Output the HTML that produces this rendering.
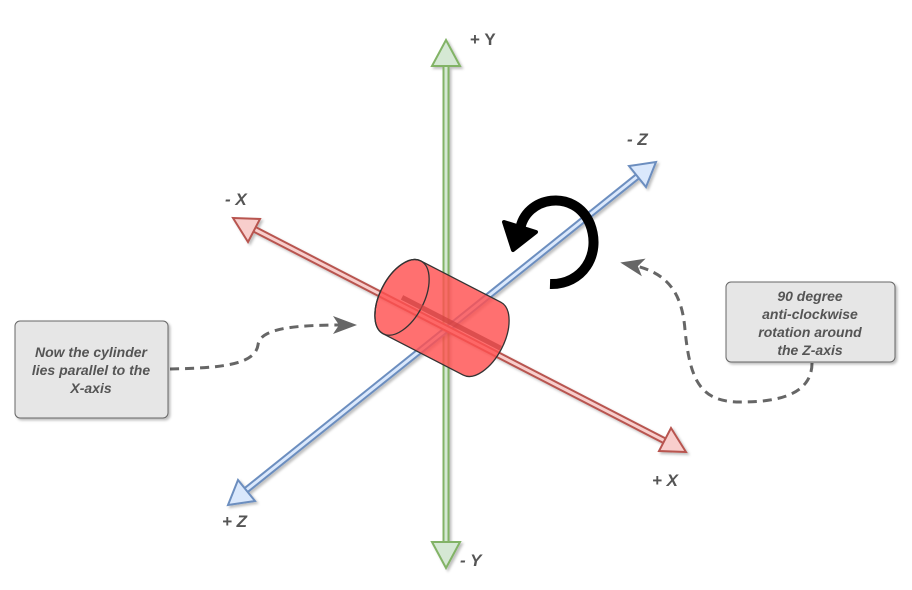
<!DOCTYPE html>
<html><head><meta charset="utf-8"><style>
html,body{margin:0;padding:0;background:#fff;}
svg{display:block;}
text{font-family:"Liberation Sans",Arial,sans-serif;}
.lbl{font-weight:bold;font-style:italic;font-size:17px;fill:#555;}
.box{font-weight:bold;font-style:italic;font-size:14px;fill:#555;}
</style></head><body>
<svg width="912" height="590" viewBox="0 0 912 590">
<defs>
<filter id="sh" x="-20%" y="-20%" width="140%" height="140%"><feDropShadow dx="2" dy="2" stdDeviation="1.2" flood-color="#000" flood-opacity="0.25"/></filter>
<marker id="dash-head" markerWidth="24" markerHeight="24" refX="12" refY="12" orient="auto" markerUnits="userSpaceOnUse" viewBox="0 0 24 24"><path d="M0,3 L24,12 L0,21 L6,12 Z" fill="#666"/></marker>
</defs>

<g filter="url(#sh)">
<line x1="446" y1="64" x2="446" y2="546" stroke="#82b366" stroke-width="7"/>
<line x1="446" y1="64" x2="446" y2="546" stroke="#d5e8d4" stroke-width="3"/>
<path d="M446,40 L460,66 L432,66 Z" fill="#d5e8d4" stroke="#82b366" stroke-width="2"/>
<path d="M446,568 L460,542 L432,542 Z" fill="#d5e8d4" stroke="#82b366" stroke-width="2"/>
</g>
<g filter="url(#sh)">
<line x1="638" y1="176" x2="245" y2="491" stroke="#6c8ebf" stroke-width="7"/>
<line x1="638" y1="176" x2="245" y2="491" stroke="#dae8fc" stroke-width="3"/>
<path d="M656,162 L646,187 L629,166 Z" fill="#dae8fc" stroke="#6c8ebf" stroke-width="2"/>
<path d="M228,505 L238,480 L255,501 Z" fill="#dae8fc" stroke="#6c8ebf" stroke-width="2"/>
</g>
<g filter="url(#sh)">
<line x1="252" y1="228" x2="667" y2="442" stroke="#b85450" stroke-width="7"/>
<line x1="252" y1="228" x2="667" y2="442" stroke="#f8cecc" stroke-width="3"/>
<path d="M233,218 L260,219 L248,242 Z" fill="#f8cecc" stroke="#b85450" stroke-width="2"/>
<path d="M686,452 L659,451 L671,428 Z" fill="#f8cecc" stroke="#b85450" stroke-width="2"/>
</g>

<g transform="translate(442,318) rotate(27.3)">
<path d="M-45,-41 L45,-41 A22,41 0 0 1 45,41 L-45,41 A22,41 0 0 1 -45,-41 Z" fill="rgba(255,80,80,0.82)" stroke="#333" stroke-width="1.3"/>
<ellipse cx="-45" cy="0" rx="22" ry="41" fill="none" stroke="#333" stroke-width="1.3"/>
<line x1="-45" y1="0" x2="66" y2="0" stroke="#d04040" stroke-width="5" opacity="0.7"/>
</g>

<g>
<path d="M520,230 C525,196 575,188 590,224 C602,255 582,285 550,284" fill="none" stroke="#000" stroke-width="10"/>
<path d="M504,222 L536,232 L513,250 Z" fill="#000" stroke="#000" stroke-width="4" stroke-linejoin="round"/>
</g>

<path d="M170,369 C215,368 255,366 258,345 C260,327 300,325 345,325" fill="none" stroke="#666" stroke-width="3" stroke-dasharray="9,6" marker-end="url(#dash-head)"/>
<path d="M812,363 C812,398 770,402 740,402 C700,402 690,380 685,330 C682,290 665,272 632,265" fill="none" stroke="#666" stroke-width="3" stroke-dasharray="9,6" marker-end="url(#dash-head)"/>

<g>
<rect x="15" y="321" width="153" height="97" rx="5" fill="#e6e6e6" stroke="#666" stroke-width="1" filter="url(#sh)"/>
<text class="box" text-anchor="middle" x="91" y="357">Now the cylinder</text>
<text class="box" text-anchor="middle" x="91" y="375">lies parallel to the</text>
<text class="box" text-anchor="middle" x="91" y="393">X-axis</text>
</g>
<g>
<rect x="726" y="282" width="169" height="80" rx="5" fill="#e6e6e6" stroke="#666" stroke-width="1" filter="url(#sh)"/>
<text class="box" text-anchor="middle" x="810" y="301">90 degree</text>
<text class="box" text-anchor="middle" x="810" y="319">anti-clockwise</text>
<text class="box" text-anchor="middle" x="810" y="337">rotation around</text>
<text class="box" text-anchor="middle" x="810" y="355">the Z-axis</text>
</g>

<text class="lbl" x="470" y="45" style="font-style:normal">+ Y</text>
<text class="lbl" x="460" y="566">- Y</text>
<text class="lbl" x="627" y="145">- Z</text>
<text class="lbl" x="222" y="527">+ Z</text>
<text class="lbl" x="225" y="205">- X</text>
<text class="lbl" x="652" y="486">+ X</text>
</svg>
</body></html>
